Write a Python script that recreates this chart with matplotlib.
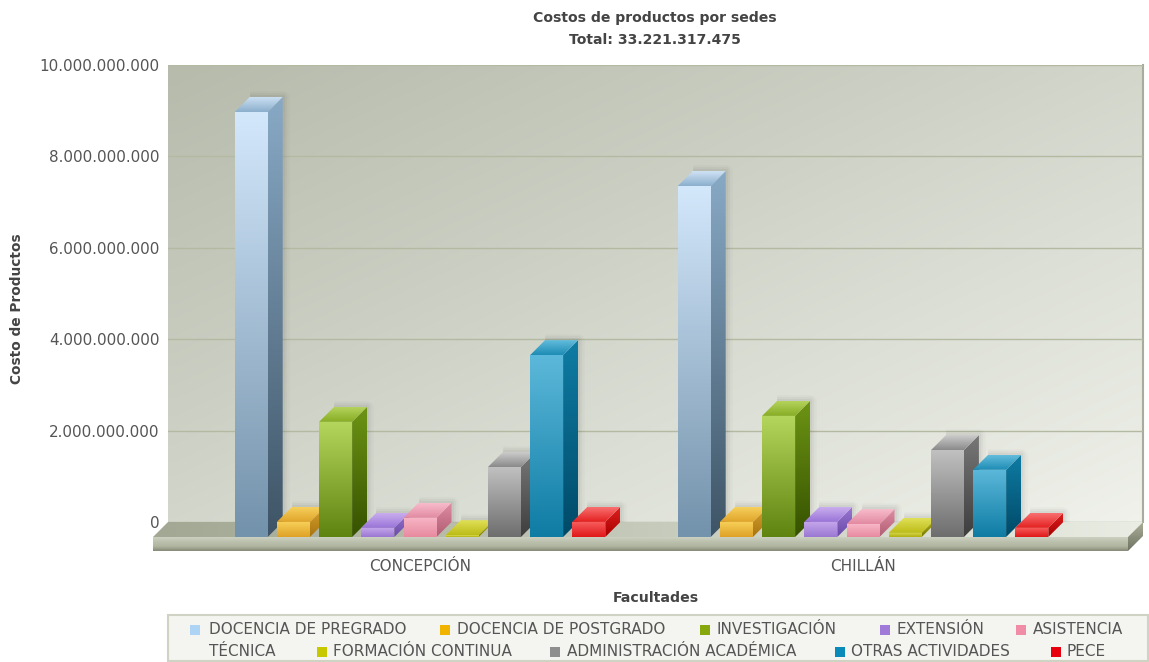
import numpy as np
import matplotlib
matplotlib.use('Agg')
import matplotlib.pyplot as plt
from matplotlib.colors import LinearSegmentedColormap
from matplotlib.patches import Polygon, Rectangle
from matplotlib.ticker import FuncFormatter

#data
sedes = ['CONCEPCIÓN', 'CHILLÁN']
series = ['DOCENCIA DE PREGRADO', 'DOCENCIA DE POSTGRADO', 'INVESTIGACIÓN', 'EXTENSIÓN', 'ASISTENCIA TÉCNICA',
          'FORMACIÓN CONTINUA', 'ADMINISTRACIÓN ACADÉMICA', 'OTRAS ACTIVIDADES', 'PECE']
concepcion = [9300000000, 330000000, 2520000000, 200000000, 420000000, 40000000, 1530000000, 3980000000, 330000000]
chillan = [7680000000, 330000000, 2650000000, 330000000, 280000000, 90000000, 1900000000, 1470000000, 200000000]
yticks = [0, 2000000000, 4000000000, 6000000000, 8000000000, 10000000000]

#colours: front top, front bottom, side top, side bottom, lid back, lid front
bar_colors = [
    ('#d3e7fb', '#7392ab', '#88a9c5', '#3f5567', '#cfe2f4', '#8cafcd'),
    ('#f8d25a', '#dfa128', '#d9a32e', '#a87410', '#f6cf5c', '#e0a52a'),
    ('#b5d65c', '#5f8410', '#6d9414', '#365200', '#b4d25c', '#87ad24'),
    ('#c6a8ec', '#9a78d2', '#9a78d2', '#6a48a8', '#c9adee', '#9a74d8'),
    ('#f7b6c6', '#e88aa0', '#e08ca2', '#b05e74', '#f8bccb', '#e28aa2'),
    ('#dcdc50', '#b0b010', '#b4b420', '#7c7c00', '#e0e058', '#bcbc18'),
    ('#c0c0c0', '#6e6e6e', '#777777', '#3e3e3e', '#cccccc', '#8a8a8a'),
    ('#5cb8da', '#0f7ca4', '#0f7ca4', '#004a68', '#62bcdc', '#1e8cb4'),
    ('#f86060', '#e01818', '#e02020', '#a80000', '#f87070', '#e42020'),
]
legend_colors = ['#aed4f5', '#f0b400', '#86a80c', '#a07ad8', '#f08ca6', '#c8c800', '#8e8e8e', '#0a8ab8', '#e8000f']

W, H = 1149, 662
depth = 15
left, right = 153, 1128
base, top = 537, 80
cat_x = [420, 863]
bar_step = 42.2
bar_w = 33
px_x = cat_x[1] - cat_x[0]
px_y = (base - top) / 1e10


def fig_rect(x0, x1, y0, y1):
    #pixel box (y from the top) to figure fraction
    return [x0 / W, 1 - y1 / H, (x1 - x0) / W, (y1 - y0) / H]


def gradient(ax, pts, colors, angle='v', z=1):
    #fill polygon pts with a linear gradient (first colour top/left, last bottom/right)
    pts = np.array(pts)
    cmap = LinearSegmentedColormap.from_list('g', colors)
    g = np.linspace(0, 1, 64)
    if angle == 'v':
        img = g[:, None]
    elif angle == 'h':
        img = g[None, :]
    else:
        img = (g[:, None] + g[None, :]) / 2
    ext = (pts[:, 0].min(), pts[:, 0].max(), pts[:, 1].min(), pts[:, 1].max())
    xl, yl = ax.get_xlim(), ax.get_ylim()
    im = ax.imshow(img, cmap=cmap, extent=ext, origin='upper', aspect='auto', zorder=z, interpolation='bilinear')
    poly = Polygon(pts, closed=True, transform=ax.transData, fc='none', ec='none', clip_on=False)
    ax.add_patch(poly)
    im.set_clip_box(fig.bbox)
    im.set_clip_path(poly)
    ax.set_xlim(xl)
    ax.set_ylim(yl)
    return im


fig = plt.figure(figsize=(W / 100, H / 100), dpi=100)
plt.rcParams['font.family'] = 'DejaVu Sans'

#back wall, carries the value axis
wall = fig.add_axes(fig_rect(left + depth, right + depth, top - depth, base - depth))
wall.set_xlim(0, 1)
wall.set_ylim(0, 1e10)
gradient(wall, [(0, 0), (1, 0), (1, 1e10), (0, 1e10)], ['#b6bbac', '#eff1ea'], 'd', z=0)
wall.set_yticks(yticks)
wall.yaxis.set_major_formatter(FuncFormatter(lambda v, p: f'{v:,.0f}'.replace(',', '.')))
wall.tick_params(axis='y', length=0, pad=6, labelsize=10.9, labelcolor='#555555')
wall.set_xticks([])
wall.grid(axis='y', color='#b4b9a2', linewidth=1, zorder=1)
wall.set_axisbelow(False)
for s in wall.spines.values():
    s.set_visible(False)
wall.spines['right'].set_visible(True)
wall.spines['right'].set_color('#a8ac9c')
wall.spines['right'].set_linewidth(1.5)
wall.set_ylabel('Costo de Productos', fontsize=9.9, fontweight='bold', color='#444444')
wall.yaxis.set_label_coords(-0.148, 0.466)

#front plane, carries the bars and the categories
ax = fig.add_axes(fig_rect(left, right, top, base))
ax.patch.set_alpha(0)
ax.set_xlim((left - cat_x[0]) / px_x, (right - cat_x[0]) / px_x)
ax.set_ylim(0, 1e10)
for s in ax.spines.values():
    s.set_visible(False)
ax.set_yticks([])
ax.set_xticks(range(len(sedes)))
ax.set_xticklabels(sedes)
ax.tick_params(axis='x', length=0, pad=16, labelsize=11, labelcolor='#555555')
ax.set_xlabel('Facultades', fontsize=10.2, fontweight='bold', color='#444444')
ax.xaxis.set_label_coords(0.516, -0.118)

dx = depth / px_x
dy = depth / px_y
x0, x1 = ax.get_xlim()
strip = 14 / px_y

#floor
gradient(ax, [(x0, 0), (x1, 0), (x1 + dx, dy), (x0 + dx, dy)], ['#a3a894', '#e9ece2'], 'h', z=1)
gradient(ax, [(x0, 0), (x1, 0), (x1, -strip), (x0, -strip)], ['#ccd0c0', '#bcc1ae', '#b0b5a0', '#858977'], 'v', z=1)
gradient(ax, [(x1, 0), (x1 + dx, dy), (x1 + dx, dy - strip), (x1, -strip)], ['#a9ae98', '#6f7362'], 'v', z=1)

w = bar_w / px_x
step = bar_step / px_x
z = 2
for c, vals in enumerate([concepcion, chillan]):
    for i, v in enumerate(vals):
        x = c + (i - 4) * step
        a, b = x - w / 2, x + w / 2
        col = bar_colors[i]
        #soft shadow on the top and right of the bar
        outline = [(b + dx, dy), (b + dx, v + dy), (a + dx, v + dy)]
        for lw, al in [(9, 0.02), (6, 0.03), (3, 0.04)]:
            ax.add_patch(Polygon(outline, closed=False, fc='none', ec='black', lw=lw, alpha=al, zorder=z, clip_on=False,
                                 joinstyle='round'))
        gradient(ax, [(b, 0), (b + dx, dy), (b + dx, v + dy), (b, v)], [col[2], col[3]], 'v', z=z + 0.1)
        gradient(ax, [(a, v), (b, v), (b + dx, v + dy), (a + dx, v + dy)], [col[4], col[5]], 'v', z=z + 0.2)
        gradient(ax, [(a, 0), (b, 0), (b, v), (a, v)], [col[0], col[1]], 'v', z=z + 0.3)
        z += 1

#titles and legend box, pixel coordinates
over = fig.add_axes([0, 0, 1, 1])
over.set_xlim(0, W)
over.set_ylim(H, 0)
over.axis('off')
over.patch.set_alpha(0)
over.text(655, 18, 'Costos de productos por sedes', ha='center', va='center', fontsize=10.1, fontweight='bold', color='#444444')
over.text(655, 40, 'Total: 33.221.317.475', ha='center', va='center', fontsize=10.1, fontweight='bold', color='#444444')

over.add_patch(Rectangle((168, 615), 980, 46, fc='#f4f5f0', ec='#cfd3c4', lw=1.5))
legend_rows = [
    (630, [(190, 209, 0), (440, 457, 1), (700, 717, 2), (880, 897, 3), (1016, 1033, 4)]),
    (652, [(317, 333, 5), (550, 567, 6), (835, 851, 7), (1051, 1067, 8)]),
]
for y, items in legend_rows:
    for sx, tx, i in items:
        over.add_patch(Rectangle((sx, y - 5), 10, 10, fc=legend_colors[i], ec='none'))
        label = series[i]
        if i == 4:
            label = 'ASISTENCIA'
        over.text(tx, y, label, va='center', fontsize=11, color='#555555')
over.text(209, 652, 'TÉCNICA', va='center', fontsize=11, color='#555555')

fig.savefig('out.png', dpi=100)
